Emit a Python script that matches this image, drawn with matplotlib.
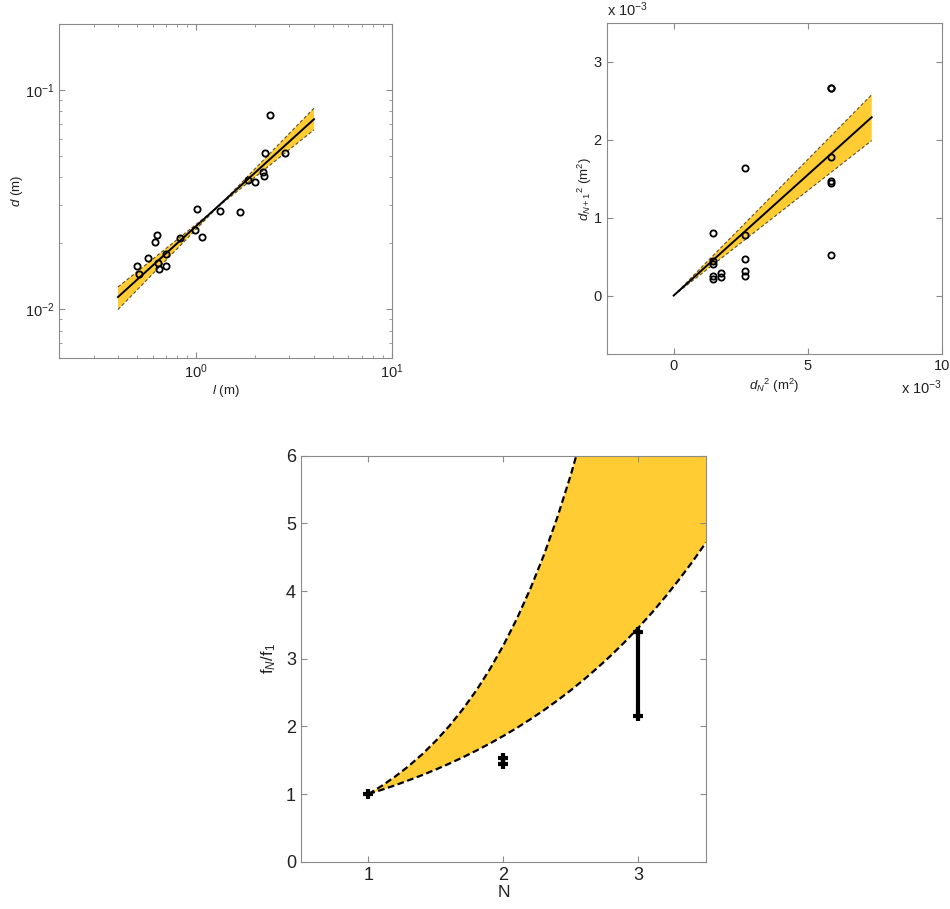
import matplotlib
matplotlib.use("Agg")
import matplotlib.pyplot as plt
import numpy as np
from matplotlib.ticker import FixedLocator, FuncFormatter, LogLocator, NullFormatter

plt.rcParams["font.family"] = ["Liberation Sans", "DejaVu Sans"]
plt.rcParams["mathtext.fontset"] = "custom"
plt.rcParams["mathtext.rm"] = "Liberation Sans"
plt.rcParams["mathtext.it"] = "Liberation Sans:italic"
plt.rcParams["axes.unicode_minus"] = False

# --- panel a: d vs l (log-log) ---
l_m = [2.39, 2.25, 2.86, 2.21, 2.23, 1.85, 2.00, 1.68, 1.33, 1.01, 0.99,
       1.07, 0.83, 0.63, 0.62, 0.57, 0.70, 0.50, 0.51, 0.64, 0.65, 0.70]
d_m = [0.0770, 0.0518, 0.0518, 0.0422, 0.0404, 0.0388, 0.0381, 0.0279,
       0.0280, 0.0286, 0.0230, 0.0213, 0.0212, 0.0218, 0.0202, 0.0171,
       0.0178, 0.0158, 0.0145, 0.0163, 0.0153, 0.0158]
fit_l = [0.4, 4.0]
fit_d = [0.01138, 0.0736]
band_steep = [0.00997, 0.0827]
band_shallow = [0.01265, 0.0658]

# --- panel b: d_{N+1}^2 vs d_N^2 ---
dN_sq = [5.88e-3, 5.88e-3, 5.88e-3, 5.88e-3, 5.88e-3, 5.88e-3,
         2.65e-3, 2.65e-3, 2.65e-3, 2.65e-3, 2.65e-3,
         1.47e-3, 1.47e-3, 1.47e-3, 1.47e-3, 1.47e-3,
         1.78e-3, 1.78e-3]
dN1_sq = [2.67e-3, 2.66e-3, 1.78e-3, 1.47e-3, 1.44e-3, 0.515e-3,
          1.637e-3, 0.784e-3, 0.465e-3, 0.321e-3, 0.25e-3,
          0.806e-3, 0.45e-3, 0.40e-3, 0.246e-3, 0.21e-3,
          0.295e-3, 0.235e-3]
fit2_x = [0.0, 7.39e-3]
fit2_y = [0.0, 2.29e-3]
band2_hi = [0.0, 2.58e-3]
band2_lo = [0.0, 1.99e-3]

# --- panel c: f_N/f_1 vs N ---
N_up = [1.0, 1.1, 1.2, 1.3, 1.4, 1.5, 1.6, 1.7, 1.8, 1.9, 2.0,
        2.1, 2.2, 2.3, 2.4, 2.5, 2.6]
f_up = [1.00, 1.123, 1.262, 1.417, 1.592, 1.789, 2.009, 2.257, 2.535, 2.848, 3.20,
        3.594, 4.038, 4.536, 5.095, 5.724, 6.43]
N_lo = [1.0, 1.1, 1.2, 1.3, 1.4, 1.5, 1.6, 1.7, 1.8, 1.9, 2.0, 2.1, 2.2,
        2.3, 2.4, 2.5, 2.6, 2.7, 2.8, 2.9, 3.0, 3.1, 3.2, 3.3, 3.4, 3.5]
f_lo = [1.00, 1.064, 1.132, 1.205, 1.282, 1.364, 1.451, 1.544, 1.643, 1.748, 1.86,
        1.979, 2.106, 2.240, 2.384, 2.536, 2.699, 2.872, 3.055, 3.251, 3.46,
        3.681, 3.917, 4.168, 4.434, 4.718]
N_obs = [1, 2, 2, 3, 3]
f_obs = [1.0, 1.54, 1.45, 2.15, 3.40]

yellow = "#FFCC33"
spine_c = "#8a8a8a"
text_c = "#222222"


def style(ax, fs):
    for s in ax.spines.values():
        s.set_color(spine_c)
        s.set_linewidth(0.8)
    ax.tick_params(which="both", direction="in", top=True, right=True,
                   color=spine_c, labelcolor=text_c, labelsize=fs)
    ax.tick_params(which="major", length=4)
    ax.tick_params(which="minor", length=2.5)


fig = plt.figure(figsize=(9.5, 9.09), dpi=100)

# panel a
ax1 = fig.add_axes([0.0621, 0.6062, 0.3505, 0.3674])
ax1.set_xscale("log")
ax1.set_yscale("log")
ax1.fill([fit_l[0], fit_l[1], fit_l[1], fit_l[0]],
         [band_steep[0], band_steep[1], band_shallow[1], band_shallow[0]],
         color=yellow, lw=0)
ax1.plot(fit_l, band_steep, color="k", lw=0.8, ls=(0, (3, 2)), alpha=0.65)
ax1.plot(fit_l, band_shallow, color="k", lw=0.8, ls=(0, (3, 2)), alpha=0.65)
ax1.plot(fit_l, fit_d, color="k", lw=1.4)
ax1.plot(l_m, d_m, "o", mfc="none", mec="k", ms=4.5, mew=1.3)
ax1.set_xlim(0.2, 10)
ax1.set_ylim(0.006, 0.2)
ax1.xaxis.set_major_locator(LogLocator(base=10, numticks=5))
ax1.yaxis.set_major_locator(LogLocator(base=10, numticks=5))
ax1.xaxis.set_minor_locator(LogLocator(base=10, subs=np.arange(2, 10), numticks=20))
ax1.yaxis.set_minor_locator(LogLocator(base=10, subs=np.arange(2, 10), numticks=20))
ax1.xaxis.set_minor_formatter(NullFormatter())
ax1.yaxis.set_minor_formatter(NullFormatter())
style(ax1, 10.5)
ax1.set_xlabel(r"$\mathit{l}$ (m)", fontsize=9.5, color=text_c, labelpad=1)
ax1.set_ylabel(r"$\mathit{d}$ (m)", fontsize=9.5, color=text_c, labelpad=0)

# panel b
ax2 = fig.add_axes([0.6386, 0.6106, 0.3526, 0.3641])
ax2.fill([fit2_x[0], fit2_x[1], fit2_x[1]], [band2_hi[0], band2_hi[1], band2_lo[1]],
         color=yellow, lw=0)
ax2.plot(fit2_x, band2_hi, color="k", lw=0.8, ls=(0, (3, 2)), alpha=0.65)
ax2.plot(fit2_x, band2_lo, color="k", lw=0.8, ls=(0, (3, 2)), alpha=0.65)
ax2.plot(fit2_x, fit2_y, color="k", lw=1.4)
ax2.plot(dN_sq, dN1_sq, "o", mfc="none", mec="k", ms=4.5, mew=1.3)
ax2.set_xlim(-2.5e-3, 10e-3)
ax2.set_ylim(-0.75e-3, 3.5e-3)
ax2.xaxis.set_major_locator(FixedLocator([0, 5e-3, 10e-3]))
ax2.yaxis.set_major_locator(FixedLocator([0, 1e-3, 2e-3, 3e-3]))
ax2.xaxis.set_major_formatter(FuncFormatter(lambda v, p: f"{v * 1e3:g}"))
ax2.yaxis.set_major_formatter(FuncFormatter(lambda v, p: f"{v * 1e3:g}"))
style(ax2, 10.5)
ax2.text(0.0, 1.012, r"x 10$^{-3}$", transform=ax2.transAxes, ha="left",
         va="bottom", fontsize=10.5, color=text_c)
ax2.text(1.0, -0.075, r"x 10$^{-3}$", transform=ax2.transAxes, ha="right",
         va="top", fontsize=10.5, color=text_c)
ax2.set_xlabel(r"$\mathit{d}_{\mathit{N}}{}^{2}$ (m$^2$)", fontsize=9.5,
               color=text_c, labelpad=3)
ax2.set_ylabel(r"$\mathit{d}_{\mathit{N+1}}{}^{2}$ (m$^2$)", fontsize=9.5,
               color=text_c, labelpad=0)

# panel c
ax3 = fig.add_axes([0.3168, 0.0520, 0.4263, 0.4466])
ax3.fill(N_lo + [3.5] + N_up[::-1], f_lo + [7.0] + f_up[::-1], color=yellow, lw=0)
ax3.plot(N_up, f_up, color="k", lw=1.6, ls=(0, (3, 1.6)))
ax3.plot(N_lo, f_lo, color="k", lw=1.6, ls=(0, (3, 1.6)))
for n in sorted(set(N_obs)):
    ys = [f for nn, f in zip(N_obs, f_obs) if nn == n]
    ax3.plot([n] * len(ys), ys, color="k", lw=3, marker="+", ms=7, mew=3)
ax3.set_xlim(0.5, 3.5)
ax3.set_ylim(0, 6)
ax3.set_xticks([1, 2, 3])
ax3.set_yticks([0, 1, 2, 3, 4, 5, 6])
style(ax3, 13)
ax3.set_xlabel("N", fontsize=12.5, color=text_c, labelpad=1)
ax3.set_ylabel(r"f$_N$/f$_1$", fontsize=12, color=text_c, labelpad=6)

fig.savefig("out.png", dpi=100)
